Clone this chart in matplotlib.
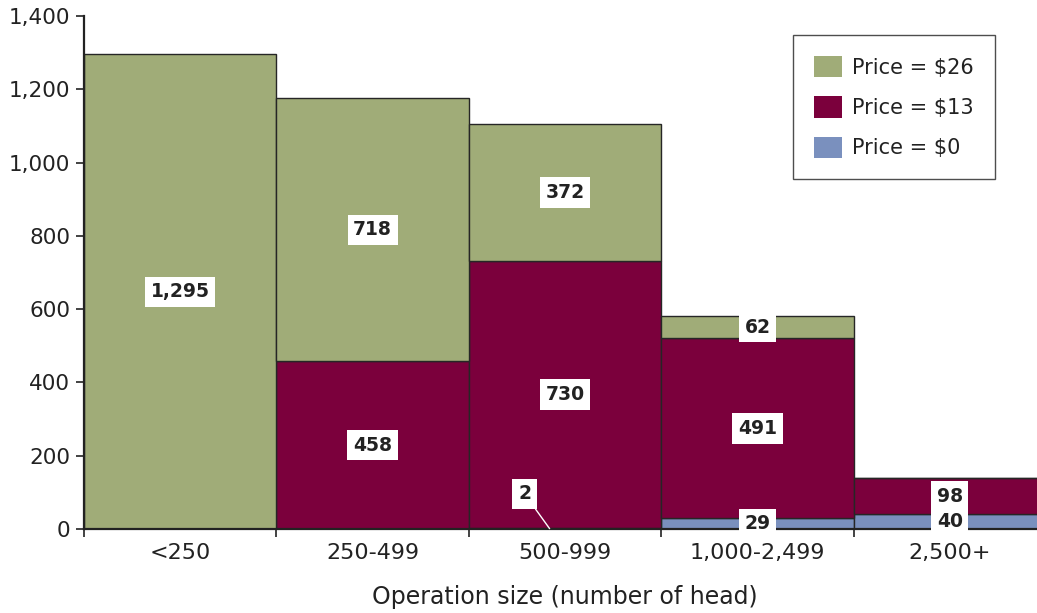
import matplotlib.pyplot as plt
from matplotlib.patches import Patch
from matplotlib.ticker import FuncFormatter
import numpy as np

categories = ["<250", "250-499", "500-999", "1,000-2,499", "2,500+"]
price_0 = [0, 0, 2, 29, 40]
price_13 = [0, 458, 730, 491, 98]
price_26 = [1295, 718, 372, 62, 0]

series = [
    ("Price = $0", price_0, "#7A90BE"),
    ("Price = $13", price_13, "#7B003C"),
    ("Price = $26", price_26, "#A0AC78"),
]

plt.rcParams['font.family'] = ['DejaVu Sans']
TXT = '#222222'

fig = plt.figure(figsize=(10.37, 6.13), dpi=100)
ax = fig.add_axes([84 / 1037, 1 - 529 / 613, (1046 - 84) / 1037, (529 - 16) / 613])

x = np.arange(len(categories))
bottom = np.zeros(len(categories))
for name, vals, color in series:
    vals = np.array(vals, dtype=float)
    ax.bar(x, vals, width=1.0, bottom=bottom, color=color,
           edgecolor='#262626', linewidth=1.0, label=name)
    for xi, v, b in zip(x, vals, bottom):
        if v <= 0:
            continue
        label = f"{int(v):,}"
        box = dict(boxstyle='square,pad=0.3', facecolor='white', edgecolor='none')
        if v < 10:
            # tiny slice: push the label up and draw a leader line
            ax.annotate(label, xy=(xi - 0.08, b + v / 2), xytext=(-18, 25),
                        textcoords='offset points', ha='center', va='center',
                        fontsize=13.5, fontweight='bold', color=TXT, bbox=box,
                        arrowprops=dict(arrowstyle='-', color='white', lw=1,
                                        shrinkA=0, shrinkB=0))
        else:
            ax.text(xi, b + v / 2, label, ha='center', va='center',
                    fontsize=13.5, fontweight='bold', color=TXT, bbox=box)
    bottom += vals

ax.set_xlim(-0.5, len(categories) - 0.5)
ax.set_ylim(0, 1400)
ax.set_yticks(np.arange(0, 1401, 200))
ax.yaxis.set_major_formatter(FuncFormatter(lambda v, p: f"{int(v):,}"))

ax.set_xticks(x)
ax.set_xticklabels(categories)
ax.set_xticks(np.arange(-0.5, len(categories) - 0.5, 1.0), minor=True)
ax.tick_params(axis='x', which='major', length=0, pad=10, labelsize=16, colors=TXT)
ax.tick_params(axis='x', which='minor', length=6, width=1.2, direction='out', color=TXT)
ax.tick_params(axis='y', length=6, width=1.2, direction='out', labelsize=15.5,
               colors=TXT, pad=4)

for side in ['top', 'right']:
    ax.spines[side].set_visible(False)
for side in ['left', 'bottom']:
    ax.spines[side].set_color(TXT)
    ax.spines[side].set_linewidth(1.6)

ax.set_xlabel("Operation size (number of head)", fontsize=17, color=TXT, labelpad=16)

handles = [Patch(facecolor=c, edgecolor='none', label=n) for n, _, c in reversed(series)]
leg = fig.legend(handles=handles, loc='upper left',
                 bbox_to_anchor=(793 / 1037, 1 - 35 / 613), borderaxespad=0,
                 fontsize=15, frameon=True, fancybox=False, edgecolor=TXT,
                 handlelength=1.35, handleheight=1.2, labelspacing=0.9,
                 handletextpad=0.5, borderpad=1.0)
leg.get_frame().set_linewidth(1.0)
for t in leg.get_texts():
    t.set_color(TXT)

fig.savefig("out.png", dpi=100)
